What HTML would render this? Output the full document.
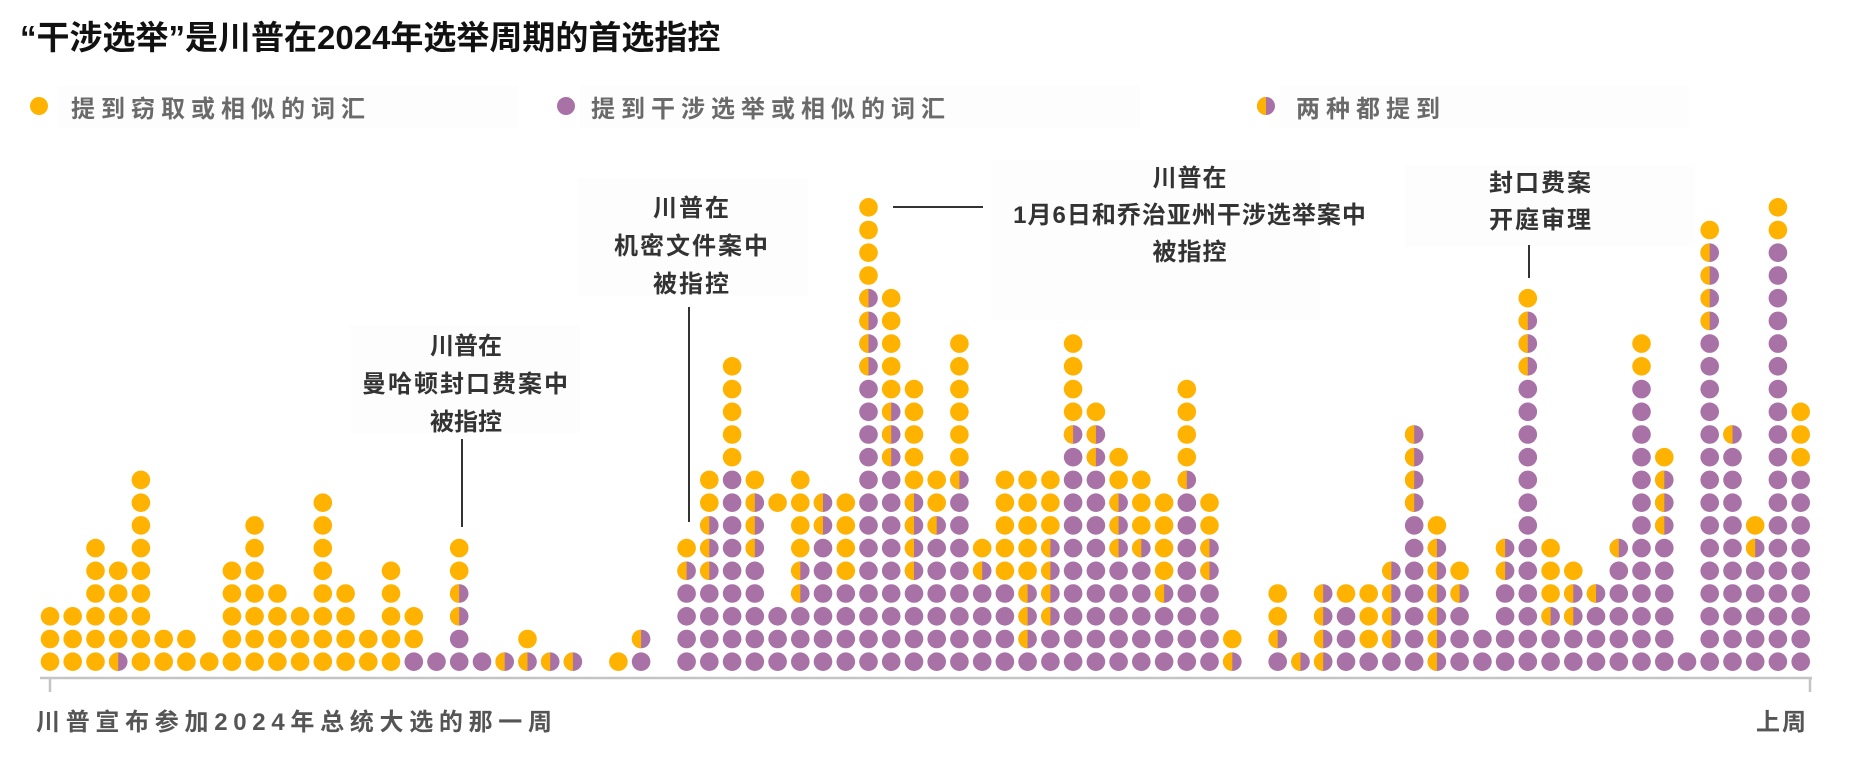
<!DOCTYPE html>
<html><head><meta charset="utf-8">
<style>
html,body{margin:0;padding:0;background:#fff;}
body{width:1851px;height:758px;overflow:hidden;position:relative;font-family:"Liberation Sans","Noto Sans CJK SC",sans-serif;}
.t{position:absolute;white-space:nowrap;}
</style></head><body>
<div class="t" style="left:20px;top:11px;font-size:33px;font-weight:bold;color:#111;">“干涉选举”是川普在2024年选举周期的首选指控</div>
<svg width="1851" height="758" style="position:absolute;left:0;top:0" id="s">
<rect x="58" y="86" width="460" height="42" fill="#fdfdfd"/>
<rect x="580" y="86" width="560" height="42" fill="#fdfdfd"/>
<rect x="1280" y="86" width="410" height="42" fill="#fdfdfd"/>
<rect x="578" y="178" width="230" height="118" fill="#fdfdfd"/>
<rect x="990" y="160" width="330" height="160" fill="#fdfdfd"/>
<rect x="350" y="325" width="230" height="108" fill="#fdfdfd"/>
<rect x="1405" y="165" width="290" height="82" fill="#fdfdfd"/>
<circle cx="39" cy="106" r="9" fill="#FFB300"/>
<circle cx="566" cy="106" r="9" fill="#A872A7"/>
<g transform="translate(1266,106)"><circle r="9" fill="#A872A7"/><path d="M0,-9 A9,9 0 0,0 0,9 Z" fill="#FFB300"/></g>
<line x1="40" y1="678" x2="1812" y2="678" stroke="#c4c4c4" stroke-width="2.5"/>
<line x1="50" y1="678" x2="50" y2="692" stroke="#c4c4c4" stroke-width="2.5"/>
<line x1="1810" y1="678" x2="1810" y2="692" stroke="#c4c4c4" stroke-width="2.5"/>
<line x1="462" y1="439" x2="462" y2="527" stroke="#333" stroke-width="2"/>
<line x1="689" y1="307" x2="689" y2="522" stroke="#333" stroke-width="2"/>
<line x1="893" y1="207" x2="983" y2="207" stroke="#333" stroke-width="2"/>
<line x1="1529" y1="245" x2="1529" y2="278" stroke="#333" stroke-width="2"/>
<g id="dots"></g>
</svg>
<div class="t" style="left:71px;top:89px;font-size:24px;font-weight:bold;color:#6a6a6a;letter-spacing:6px;">提到窃取或相似的词汇</div>
<div class="t" style="left:591px;top:89px;font-size:24px;font-weight:bold;color:#6a6a6a;letter-spacing:6px;">提到干涉选举或相似的词汇</div>
<div class="t" style="left:1296px;top:89px;font-size:24px;font-weight:bold;color:#6a6a6a;letter-spacing:6px;">两种都提到</div>

<div class="t" style="left:366px;top:328px;width:200px;text-align:center;font-size:24px;font-weight:bold;color:#333;line-height:38px;white-space:normal;">川普在<br><span style="margin-left:-20px;margin-right:-20px;display:inline-block;letter-spacing:2px">曼哈顿封口费案中</span><br>被指控</div>
<div class="t" style="left:592px;top:190px;width:200px;text-align:center;font-size:24px;font-weight:bold;color:#333;line-height:38px;letter-spacing:2px;">川普在<br>机密文件案中<br>被指控</div>
<div class="t" style="left:990px;top:160px;width:400px;text-align:center;font-size:24px;font-weight:bold;color:#333;line-height:37px;letter-spacing:1px;">川普在<br>1月6日和乔治亚州干涉选举案中<br>被指控</div>
<div class="t" style="left:1441px;top:165px;width:200px;text-align:center;font-size:24px;font-weight:bold;color:#333;line-height:37px;letter-spacing:2px;">封口费案<br>开庭审理</div>

<div class="t" style="left:36px;top:702px;font-size:24px;font-weight:bold;color:#555;letter-spacing:5.7px;">川普宣布参加2024年总统大选的那一周</div>
<div class="t" style="left:1756px;top:702px;font-size:24px;font-weight:bold;color:#555;letter-spacing:2px;">上周</div>
<script>
function r(c,n){return c.repeat(n);}
var cols=["YYY","YYY","YYYYYY","BYYYY","YYYYYYYYY","YY","YY","Y","YYYYY","YYYYYYY",
"YYYY","YYY","YYYYYYYY","YYYY","YY","YYYYY","PYY","P","PPBBYY","P",
"B","BY","B","B","","Y","PB","","PPPPBY","PPPPBBBYY",
"PPPPPPPPPYYYYY","PPPPPBBBY","PPP....Y","PPPBBYYYY","PPPPPPBB","PPPPYYYY",r("P",13)+"BBBBYYYY",r("P",9)+"BBBYYYYY","PPPPBBBBYYYYY","PPPPPPBYY",
"PPPPPPPPBYYYYYY","PPPPBY","PPPPYYYYY","PBBBYYYYY","PPBBBBYYY",r("P",10)+"BYYYY",r("P",9)+"BBY","PPPPPBBBYY","PPPPPBYYY","PPPBYYYY",
r("P",8)+"BYYYY","PPPPBBYY","BY","","PBYY","B","BBBB","PPPY","PYYY","PBBBB",
r("P",7)+"BBBB","BBBBBBY","PPPBY","PP","PPPPBB",r("P",13)+"BBBY","PPBYYY","PPBBY","PPPB","PPPPPB",
r("P",13)+"YY","PPPPPPBBBY","P",r("P",15)+"BBBBY",r("P",10)+"B","PPPPPBY",r("P",19)+"YY",r("P",9)+"YYY"];
var Y="#FFB300",P="#A872A7",R=9.3,h="";
for(var i=0;i<cols.length;i++){var x=(50+i*22.736).toFixed(1);var s=cols[i];
for(var j=0;j<s.length;j++){var c=s[j];if(c==".")continue;var y=(661.7-j*22.72).toFixed(1);
if(c=="Y")h+='<circle cx="'+x+'" cy="'+y+'" r="'+R+'" fill="'+Y+'"/>';
else if(c=="P")h+='<circle cx="'+x+'" cy="'+y+'" r="'+R+'" fill="'+P+'"/>';
else h+='<g transform="translate('+x+','+y+')"><circle r="'+R+'" fill="'+P+'"/><path d="M0,-'+R+' A'+R+','+R+' 0 0,0 0,'+R+' Z" fill="'+Y+'"/></g>';}}
document.getElementById("dots").innerHTML=h;
</script>
</body></html>
